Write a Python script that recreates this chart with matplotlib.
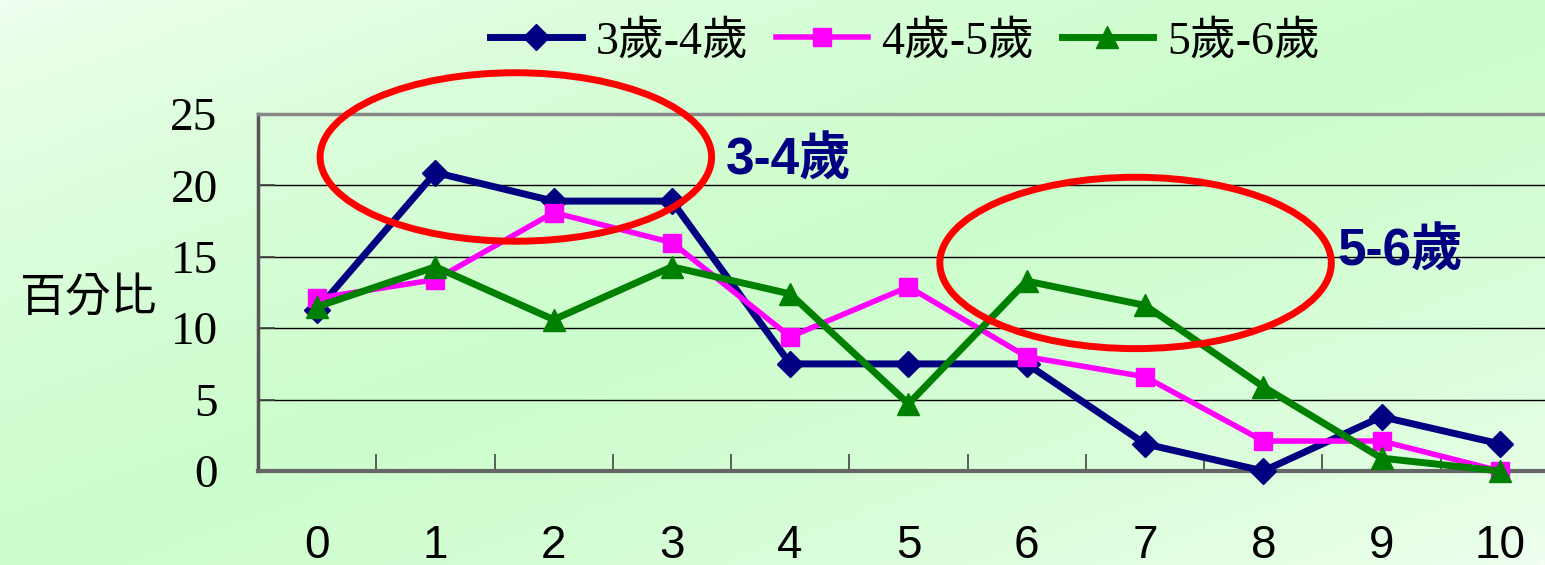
import numpy as np
import matplotlib
matplotlib.use("Agg")
import matplotlib.pyplot as plt
from matplotlib.patches import Ellipse
from matplotlib.ticker import FixedLocator

# ---- data ----
categories = list(range(11))
series_names = ["3歲-4歲", "4歲-5歲", "5歲-6歲"]
age_3_4 = [11.3, 20.9, 18.9, 18.9, 7.5, 7.5, 7.5, 1.9, 0.0, 3.8, 1.9]
age_4_5 = [12.1, 13.4, 18.1, 16.0, 9.4, 12.9, 8.0, 6.6, 2.1, 2.1, 0.0]
age_5_6 = [11.5, 14.3, 10.6, 14.3, 12.4, 4.7, 13.3, 11.6, 5.9, 0.9, 0.0]
y_ticks = [0, 5, 10, 15, 20, 25]
y_label = "百分比"
highlight_labels = ["3-4歲", "5-6歲"]

serif = ["Liberation Serif", "Noto Sans CJK TC"]
sans = ["Liberation Sans", "Noto Sans CJK TC"]

W, H = 1545, 565
fig = plt.figure(figsize=(W / 100, H / 100), dpi=100)

# background gradient
bg = fig.add_axes([0, 0, 1, 1], zorder=-10)
xx, yy = np.meshgrid(np.linspace(0, 1, 300), np.linspace(0, 1, 120))
t = (xx + yy) / 2.0
d = (1 - np.abs(t - 0.5) * 2) ** 0.6  # 1 on diagonal band, 0 at corners
light = np.array([242, 255, 242]) / 255.0
dark = np.array([204, 253, 204]) / 255.0
img = light[None, None, :] * (1 - d[..., None]) + dark[None, None, :] * d[..., None]
bg.imshow(img, extent=[0, 1, 0, 1], aspect="auto", origin="upper")
bg.axis("off")

ax = fig.add_axes([258 / W, (H - 471) / H, 1301 / W, 357 / H])
ax.set_facecolor("none")
ax.set_xlim(-0.5, 10.5)
ax.set_ylim(0, 25)

styles = [
    dict(color="#000080", marker="D", markersize=13, lw=5),
    dict(color="#ff00ff", marker="s", markersize=13, lw=4),
    dict(color="#008000", marker="^", markersize=16, lw=5),
]
for name, vals, st in zip(series_names, [age_3_4, age_4_5, age_5_6], styles):
    ax.plot(categories, vals, label=name, clip_on=False, zorder=5,
            markeredgecolor=st["color"], **st)

# grid
for yv in y_ticks[1:-1]:
    ax.axhline(yv, color="black", lw=1.0, zorder=1)

ax.spines["right"].set_visible(False)
ax.spines["top"].set_color("#888888")
ax.spines["top"].set_linewidth(2.5)
ax.spines["left"].set_color("#555555")
ax.spines["left"].set_linewidth(2.5)
ax.spines["bottom"].set_color("#666666")
ax.spines["bottom"].set_linewidth(3)

ax.yaxis.set_major_locator(FixedLocator(y_ticks))
ax.set_yticklabels([str(v) for v in y_ticks], fontfamily=serif, fontsize=34)
ax.tick_params(axis="y", direction="in", length=12, width=1.2, color="#444444", pad=29)

ax.xaxis.set_major_locator(FixedLocator(categories))
ax.set_xticklabels([str(c) for c in categories], fontfamily=sans, fontsize=33)
ax.tick_params(axis="x", which="major", length=0, pad=38)
ax.xaxis.set_minor_locator(FixedLocator([c + 0.5 for c in categories[:-1]]))
ax.tick_params(axis="x", which="minor", direction="in", length=12, width=1.2, color="#444444")

# y label
fig.text(88 / W, 1 - 299 / H, y_label, fontfamily=serif, fontsize=33,
         ha="center", va="center")

# highlight ellipses
ell_centers = [(1.68, 21.99), (6.92, 14.57)]
ell_size = [(3.31, 11.8), (3.31, 12.0)]
for (cx, cy), (ew, eh) in zip(ell_centers, ell_size):
    ax.add_patch(Ellipse((cx, cy), ew, eh, fill=False, edgecolor="#ff0000",
                         lw=5, clip_on=False, zorder=6))

fig.text(726 / W, 1 - 161 / H, highlight_labels[0], fontfamily=sans, fontsize=37,
         fontweight="bold", color="#000080", ha="left", va="center")
fig.text(1337 / W, 1 - 252 / H, highlight_labels[1], fontfamily=sans, fontsize=37,
         fontweight="bold", color="#000080", ha="left", va="center")

leg = fig.legend(loc="center", bbox_to_anchor=(905 / W, 1 - 42 / H), ncol=3,
                 frameon=False, prop={"family": serif, "size": 33},
                 handlelength=2.0, handletextpad=0.3, columnspacing=0.6,
                 borderaxespad=0)

fig.savefig("out.png", dpi=100)
